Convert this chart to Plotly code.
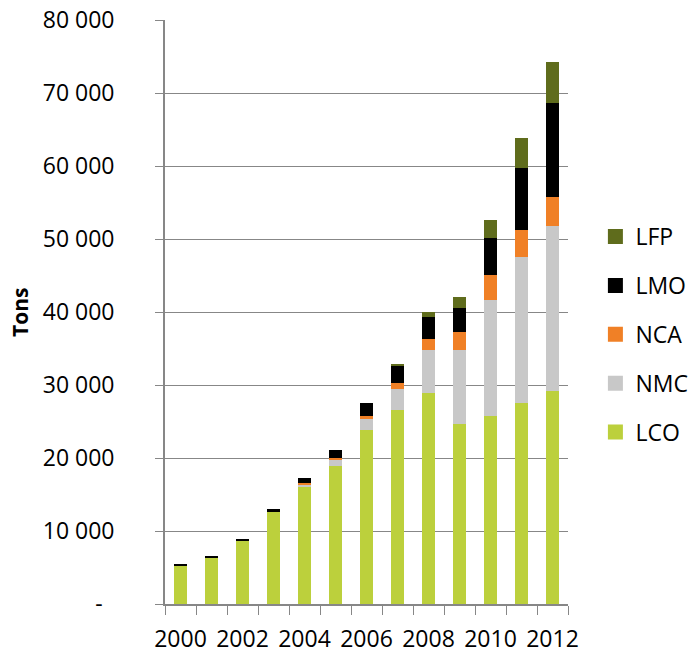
import plotly.graph_objects as go

years = list(range(2000, 2013))
LCO = [5280, 6380, 8680, 12600, 16070, 18900, 23880, 26620, 28850, 24620, 25800, 27490, 29160]
NMC = [0, 0, 0, 0, 350, 910, 1460, 2880, 6000, 10190, 15850, 20050, 22680]
NCA = [0, 0, 0, 0, 100, 180, 460, 730, 1460, 2470, 3470, 3740, 3930]
LMO = [100, 100, 180, 410, 680, 1050, 1740, 2380, 2970, 3330, 5070, 8450, 12920]
LFP = [0, 0, 0, 0, 0, 0, 0, 270, 780, 1460, 2470, 4110, 5620]

series = [
    ("LCO", LCO, "#BCD03C"),
    ("NMC", NMC, "#C8C8C8"),
    ("NCA", NCA, "#F08026"),
    ("LMO", LMO, "#000000"),
    ("LFP", LFP, "#5F6C1C"),
]

y_tickvals = [0, 10000, 20000, 30000, 40000, 50000, 60000, 70000, 80000]
y_ticktext = ["-\u00a0\u00a0", "10 000", "20 000", "30 000", "40 000", "50 000", "60 000", "70 000", "80 000"]
x_tickvals = [2000, 2002, 2004, 2006, 2008, 2010, 2012]
x_ticktext = [str(v) for v in x_tickvals]

FONT = "Open Sans"
GRAY = "#878787"

fig = go.Figure()
for name, vals, color in series:
    fig.add_trace(go.Bar(x=years, y=vals, name=name, marker=dict(color=color, line=dict(width=0)),
                         showlegend=False))
# legend entries (square swatches), top to bottom: LFP ... LCO
for name, vals, color in reversed(series):
    fig.add_trace(go.Scatter(x=[None], y=[None], mode="markers", name=name, legendgroup=name,
                             marker=dict(symbol="square", size=15, color=color), showlegend=True))

fig.update_layout(
    barmode="stack",
    bargap=0.6,
    width=690, height=652,
    margin=dict(l=165, r=122, t=20, b=48, autoexpand=False),
    plot_bgcolor="white", paper_bgcolor="white",
    font=dict(family=FONT, size=23, color="#000000"),
    legend=dict(x=1.068, y=0.666, xanchor="left", yanchor="top", traceorder="grouped",
                font=dict(size=23), tracegroupgap=16, bgcolor="rgba(0,0,0,0)"),
    annotations=[dict(text="<b>Tons</b>", x=-0.36, y=0.5, xref="paper", yref="paper",
                      textangle=-90, showarrow=False, font=dict(size=21, family=FONT),
                      xanchor="center", yanchor="middle")],
)
fig.update_yaxes(range=[0, 80000], tickmode="array", tickvals=y_tickvals, ticktext=y_ticktext,
                 showgrid=True, gridcolor=GRAY, gridwidth=1.3, showline=True, linecolor=GRAY,
                 linewidth=1.8, ticks="outside", ticklen=8, tickcolor=GRAY, tickwidth=1.3,
                 ticklabelstandoff=36, zeroline=False, automargin=False)
fig.update_xaxes(range=[1999.5, 2012.5], tickmode="array", tickvals=x_tickvals, ticktext=x_ticktext,
                 showgrid=False, showline=True, linecolor=GRAY, linewidth=1.8, ticks="",
                 ticklabelstandoff=13, zeroline=False, automargin=False,
                 minor=dict(tickmode="array", tickvals=[1999.5 + i for i in range(14)],
                            ticks="outside", ticklen=9, tickcolor=GRAY, tickwidth=1.3, showgrid=False))

fig.write_html("out.html", config={"displayModeBar": False},
               post_script="document.body.style.margin='0';")
